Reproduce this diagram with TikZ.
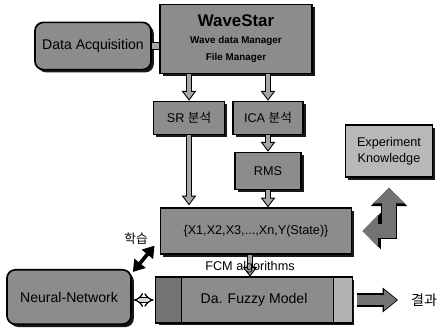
\documentclass[tikz,border=0pt]{standalone}
\usepackage{fontspec}
\setmainfont{Liberation Sans}
\newfontfamily\kr{Noto Sans CJK KR}
\usetikzlibrary{arrows.meta, positioning, calc, shadows}
\tikzset{
  box/.style  = {draw=black, line width=1.2pt, fill=black!45, align=center,
                 inner sep=1pt, font=\small,
                 drop shadow={shadow xshift=2pt, shadow yshift=-2pt, fill=black, opacity=0.9}},
  rbox/.style = {box, rounded corners=6pt},
  garr/.style = {line width=2.8pt, draw=black!35, shorten >=1.2pt,
                 -{Triangle[length=5pt,width=7pt]},
                 preaction={draw=black, line width=4.6pt, shorten >=0pt,
                            -{Triangle[length=7pt,width=10pt]}}},
  gbar/.style = {line width=4.5pt, draw=black!35,
                 preaction={draw=black, line width=6.2pt}},
  fat/.style  = {line width=10pt, draw=black!55, line join=miter,
                 {Triangle[length=11pt,width=22pt]}-{Triangle[length=11pt,width=22pt]},
                 preaction={draw=black, line width=12pt, line join=miter,
                            {Triangle[length=13pt,width=25pt]}-{Triangle[length=13pt,width=25pt]}}},
  hollow/.style = {line width=0.9pt, draw=black, double=black!15, double distance=2.4pt,
                 {Implies}-{Implies}},
  res/.style  = {line width=7pt, draw=black!55, shorten <=3.5pt, shorten >=10pt,
                 -{Triangle[length=9pt,width=14pt]},
                 preaction={draw=black, line width=10pt, shorten <=3.5pt, shorten >=9pt,
                            -{Triangle[length=11pt,width=17pt]}}},
  learn/.style = {line width=2.6pt, draw=black,
                 {Triangle[length=8pt,width=10pt]}-{Triangle[length=8pt,width=10pt]}},
}
\begin{document}
\begin{tikzpicture}[x=0.025cm, y=-0.025cm]
  \useasboundingbox (0,0) rectangle (440,329);

  % Acquisition and wave data
  \node[rbox, minimum width=2.9cm, minimum height=1.18cm, font=\normalsize]
        (daq) at (93,46) {Data Acquisition};
  \node[box, minimum width=3.8cm, minimum height=1.72cm]
        (wave) at (236,39) {{\bfseries\large WaveStar}\\[1pt]
        {\bfseries\scriptsize Wave data Manager}\\[1pt]
        {\bfseries\scriptsize File Manager}};

  % Analysis
  \node[box, minimum width=1.78cm, minimum height=0.82cm]
        (sr) at (189,118) {SR {\kr 분석}};
  \node[box, minimum width=1.74cm, minimum height=0.82cm]
        (ica) at (268,118) {ICA {\kr 분석}};
  \node[box, minimum width=1.66cm, minimum height=0.92cm]
        (rms) at (268,171) {RMS};

  % State vector and knowledge
  \node[box, minimum width=4.78cm, minimum height=1.14cm]
        (state) at (256,231) {\{X1,X2,X3,...,Xn,Y(State)\}};
  \node[box, fill=black!28, minimum width=2.18cm, minimum height=1.3cm]
        (exp) at (389,151) {Experiment\\Knowledge};

  % Models
  \node[rbox, minimum width=3.1cm, minimum height=1.36cm, font=\normalsize]
        (nn) at (69,297) {Neural-Network};
  \node[box, minimum width=4.88cm, minimum height=1.12cm, font=\normalsize]
        (fuzzy) at (254,300) {Da. Fuzzy Model};
  \fill[black!55] (fuzzy.north west) rectangle ($(fuzzy.south west)!0.133!(fuzzy.south east)$);
  \fill[black!30] ($(fuzzy.north west)!0.903!(fuzzy.north east)$) rectangle (fuzzy.south east);
  \draw[line width=0.8pt] ($(fuzzy.north west)!0.133!(fuzzy.north east)$)
        -- ($(fuzzy.south west)!0.133!(fuzzy.south east)$);
  \draw[line width=0.8pt] ($(fuzzy.north west)!0.903!(fuzzy.north east)$)
        -- ($(fuzzy.south west)!0.903!(fuzzy.south east)$);
  \draw[line width=1.2pt] (fuzzy.north west) rectangle (fuzzy.south east);

  \node[font=\kr\normalsize, inner sep=0pt] (result) at (424,300) {결과};
  \node[font=\kr\small, inner sep=0pt] (learnlbl) at (136,239) {학습};

  % Arrows
  \draw[gbar] (daq.east) -- (daq.east -| wave.west);
  \draw[garr] (sr.north |- wave.south) -- (sr.north);
  \draw[garr] (ica.north |- wave.south) -- (ica.north);
  \draw[garr] (ica.south) -- (rms.north);
  \draw[garr] (sr.south) -- ($(sr.south |- state.north)+(0,-2)$);
  \draw[garr] (rms.south) -- (rms.south |- state.north);
  \coordinate (fcm) at ($(state.south)+(-6,0)$);
  \draw[garr] (fcm) -- (fcm |- fuzzy.north)
        node[pos=0.55, font=\small] {FCM algorithms};

  \draw[fat] ($(state.east)+(10,0)$) -| ($(exp.south)+(0,10)$);
  \draw[learn] ($(nn.north east)+(1,3)$) -- ($(state.south west)+(-5,-9)$);
  \draw[hollow] ($(fuzzy.west -| nn.east)+(2,0)$) -- ($(fuzzy.west)+(-2,0)$);
  \draw[res] (fuzzy.east) -- (result.west);
\end{tikzpicture}
\end{document}
